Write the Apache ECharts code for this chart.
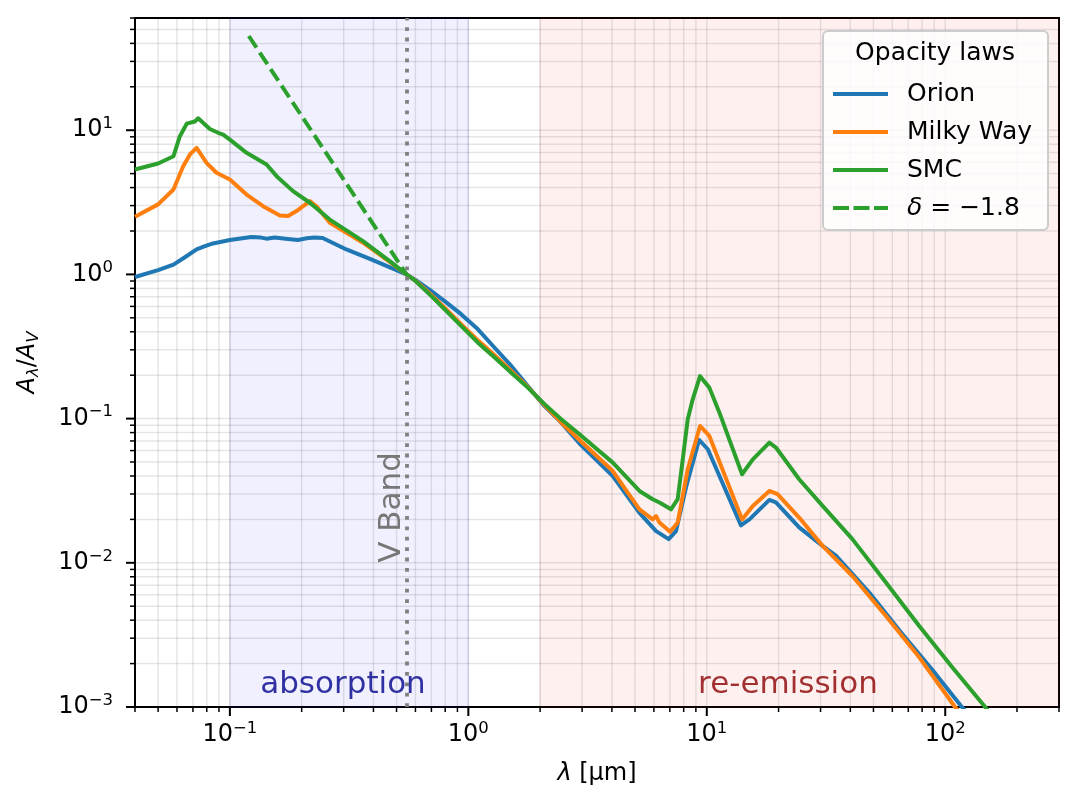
<!DOCTYPE html>
<html lang="en">
<head>
    <meta charset="UTF-8">
    <title>Opacity laws</title>
    <script src="https://cdn.jsdelivr.net/npm/echarts@6.0.0/dist/echarts.min.js"></script>
    <style>
        html, body { margin: 0; padding: 0; background: #fff; }
        #main { width: 1078px; height: 812px; }
    </style>
</head>
<body>
    <div id="main"></div>
    <script type="text/javascript">
        // wavelength [um] and A_lambda / A_V
        const orionLam = [0.04, 0.05, 0.058, 0.065, 0.0725, 0.0786, 0.085, 0.1, 0.123, 0.135, 0.1425, 0.154, 0.175, 0.193, 0.21, 0.227, 0.245, 0.308, 0.398, 0.55, 0.596, 0.7, 0.7955, 0.935, 1.097, 1.289, 1.514, 1.776, 2.087, 2.452, 2.926, 4.035, 5.22, 6.13, 6.92, 7.43, 8.19, 9.28, 10.1, 13.9, 15.1, 18.3, 19.5, 24.4, 30.6, 34.8, 48.0, 66.2, 91.3, 116.3, 128];
        const orionA = [0.96, 1.07, 1.17, 1.32, 1.49, 1.57, 1.64, 1.73, 1.82, 1.80, 1.77, 1.80, 1.76, 1.73, 1.78, 1.80, 1.79, 1.49, 1.256, 1.0, 0.923, 0.766, 0.653, 0.528, 0.416, 0.310, 0.232, 0.168, 0.122, 0.0938, 0.0672, 0.040, 0.0222, 0.0166, 0.0146, 0.0166, 0.0335, 0.0711, 0.0613, 0.0182, 0.020, 0.0273, 0.0262, 0.0176, 0.0131, 0.0112, 0.00622, 0.0032, 0.00169, 0.00102, 0.00085];

        const milkyLam = [0.04, 0.05, 0.058, 0.0637, 0.068, 0.0725, 0.0798, 0.0879, 0.1, 0.1175, 0.1378, 0.162, 0.1754, 0.1903, 0.2164, 0.2307, 0.2624, 0.3617, 0.468, 0.55, 0.596, 0.7, 0.7955, 0.935, 1.097, 1.289, 1.514, 1.776, 2.087, 2.452, 2.926, 4.035, 5.22, 5.93, 6.13, 6.33, 7.02, 7.55, 8.32, 9.37, 10.25, 14.06, 15.6, 18.3, 19.8, 24.4, 30.6, 40.8, 56.4, 77.8, 109, 118];
        const milkyA = [2.51, 3.06, 3.88, 5.63, 6.79, 7.55, 5.94, 5.07, 4.55, 3.58, 2.97, 2.56, 2.54, 2.75, 3.22, 2.97, 2.28, 1.66, 1.22, 1.0, 0.914, 0.719, 0.588, 0.450, 0.349, 0.275, 0.214, 0.166, 0.124, 0.094, 0.071, 0.0433, 0.0235, 0.020, 0.0211, 0.019, 0.0164, 0.019, 0.0445, 0.0889, 0.0758, 0.020, 0.0248, 0.0315, 0.0299, 0.0206, 0.0131, 0.0081, 0.00428, 0.00221, 0.00102, 0.00087];

        const smcLam = [0.04, 0.05, 0.058, 0.0617, 0.0659, 0.0713, 0.0736, 0.0824, 0.0893, 0.0937, 0.1, 0.1175, 0.1425, 0.157, 0.184, 0.2164, 0.2624, 0.3617, 0.468, 0.55, 0.596, 0.7, 0.7955, 0.935, 1.097, 1.289, 1.514, 1.776, 2.087, 2.452, 2.926, 4.035, 5.22, 5.93, 6.33, 7.08, 7.55, 7.93, 8.32, 8.73, 9.37, 10.25, 11.3, 14.06, 15.6, 18.3, 19.5, 24.4, 30.6, 40.8, 56.4, 77.8, 107.2, 145.6, 155];
        const smcA = [5.34, 5.88, 6.6, 9.09, 11.1, 11.5, 12.1, 10.2, 9.6, 9.33, 8.6, 6.97, 5.78, 4.80, 3.78, 3.14, 2.40, 1.70, 1.236, 1.0, 0.909, 0.707, 0.572, 0.438, 0.336, 0.265, 0.208, 0.164, 0.126, 0.0989, 0.0778, 0.0495, 0.0315, 0.0276, 0.0262, 0.0235, 0.0276, 0.0522, 0.0989, 0.136, 0.197, 0.164, 0.110, 0.0411, 0.0522, 0.0682, 0.063, 0.038, 0.0248, 0.0146, 0.0073, 0.00365, 0.00188, 0.00102, 0.0009];

        // power-law guide (dashed)
        const deltaLam = [0.12, 0.55];
        const deltaA = [45, 1.0];

        // axes
        const X_MIN = 0.04, X_MAX = 300;
        const Y_MIN = 0.001, Y_MAX = 60;
        const xMajor = [0.1, 1, 10, 100];
        const yMajor = [0.001, 0.01, 0.1, 1, 10];
        const V_BAND = 0.55;

        const FONT = 'DejaVu Sans';
        const GRID_COLOR = 'rgba(0,0,0,0.1)';
        const SOLID_ICON = 'path://M0,0h55v1h-55z';
        const DASH_ICON = 'path://M0,0h16v1h-16z M20.5,0h16v1h-16z M41,0h14v1h-14z';

        const zip = (xs, ys) => xs.map((x, i) => [x, ys[i]]);

        // 2..9 x 10^k inside [lo, hi]
        function minorTicks(lo, hi) {
            const out = [];
            for (let k = -4; k <= 3; k++) {
                for (let m = 2; m <= 9; m++) {
                    const v = m * Math.pow(10, k);
                    if (v >= lo * 0.999 && v <= hi * 1.001) out.push(v);
                }
            }
            return out;
        }
        const xMinor = minorTicks(X_MIN, X_MAX);
        const yMinor = minorTicks(Y_MIN, Y_MAX);

        // 10^n with a raised exponent
        function powLabel(v) {
            const lg = Math.log10(v);
            const e = Math.round(lg);
            if (Math.abs(lg - e) > 1e-6) return '';
            return '{b|10}{s|' + (e < 0 ? '\u2212' + (-e) : e) + '}';
        }
        const tickRich = {
            b: { fontFamily: FONT, fontSize: 24, color: '#000' },
            s: { fontFamily: FONT, fontSize: 16.5, color: '#000', padding: [0, 0, 13, 0] }
        };

        // tick marks + grid lines, drawn through the axes' scales
        function xTicks(params, api) {
            const v = api.value(0), major = api.value(2) === 1;
            const b = api.coord([v, Y_MIN]);
            const t = api.coord([v, Y_MAX]);
            const len = major ? 9 : 5;
            return {
                type: 'group',
                children: [
                    { type: 'line', shape: { x1: b[0], y1: t[1], x2: b[0], y2: b[1] }, style: { stroke: GRID_COLOR, lineWidth: 1.5 } },
                    { type: 'line', shape: { x1: b[0], y1: b[1], x2: b[0], y2: b[1] + len }, style: { stroke: '#000', lineWidth: major ? 2 : 1.5 } }
                ]
            };
        }
        function yTicks(params, api) {
            const v = api.value(1), major = api.value(2) === 1;
            const l = api.coord([X_MIN, v]);
            const r = api.coord([X_MAX, v]);
            const len = major ? 9 : 5;
            return {
                type: 'group',
                children: [
                    { type: 'line', shape: { x1: l[0], y1: l[1], x2: r[0], y2: l[1] }, style: { stroke: GRID_COLOR, lineWidth: 1.5 } },
                    { type: 'line', shape: { x1: l[0] - len, y1: l[1], x2: l[0], y2: l[1] }, style: { stroke: '#000', lineWidth: major ? 2 : 1.5 } }
                ]
            };
        }

        const xTickData = xMajor.map(v => [v, Y_MIN, 1]).concat(xMinor.map(v => [v, Y_MIN, 0]));
        const yTickData = yMajor.map(v => [X_MIN, v, 1]).concat(yMinor.map(v => [X_MIN, v, 0]));

        function curve(name, data, color, dash) {
            return {
                name: name,
                type: 'line',
                data: data,
                symbol: 'none',
                z: 3,
                lineStyle: { color: color, width: 4, type: dash || 'solid', cap: 'butt', join: 'round' },
                itemStyle: { color: color },
                emphasis: { disabled: true }
            };
        }

        let myChart = echarts.init(document.getElementById('main'));

        let options = {
            animation: false,
            grid: {
                left: 135, right: 19, top: 18, bottom: 105,
                show: true, borderColor: '#000', borderWidth: 2, backgroundColor: 'transparent'
            },
            xAxis: {
                type: 'log', min: X_MIN, max: X_MAX,
                axisLine: { show: false },
                axisTick: { show: false },
                splitLine: { show: false },
                axisLabel: { formatter: powLabel, margin: 13, fontSize: 24, fontFamily: FONT, rich: tickRich },
                name: '{i|\u03bb} [\u00b5m]',
                nameLocation: 'middle',
                nameGap: 55,
                nameTextStyle: {
                    fontFamily: FONT, fontSize: 24, color: '#000',
                    rich: { i: { fontFamily: FONT, fontSize: 24, fontStyle: 'italic', color: '#000' } }
                }
            },
            yAxis: {
                type: 'log', min: Y_MIN, max: Y_MAX,
                axisLine: { show: false },
                axisTick: { show: false },
                splitLine: { show: false },
                axisLabel: { formatter: powLabel, margin: 22, fontSize: 24, fontFamily: FONT, rich: tickRich },
                name: '{i|A}{sub|\u03bb}{n|/}{i|A}{sub|V}',
                nameLocation: 'middle',
                nameGap: 93,
                nameTextStyle: {
                    fontFamily: FONT, fontSize: 24, color: '#000',
                    rich: {
                        i: { fontFamily: FONT, fontSize: 24, fontStyle: 'italic', color: '#000' },
                        n: { fontFamily: FONT, fontSize: 24, color: '#000' },
                        sub: { fontFamily: FONT, fontSize: 16.5, fontStyle: 'italic', color: '#000', padding: [11, 0, 0, 0] }
                    }
                }
            },
            legend: {
                orient: 'vertical',
                left: 823, top: 31,
                data: [
                    { name: 'Orion', icon: SOLID_ICON },
                    { name: 'Milky Way', icon: SOLID_ICON },
                    { name: 'SMC', icon: SOLID_ICON },
                    { name: 'delta', icon: DASH_ICON }
                ],
                itemWidth: 55, itemHeight: 4, itemGap: 10,
                symbolKeepAspect: false,
                itemStyle: { borderWidth: 0 },
                padding: [49, 16, 8, 10],
                backgroundColor: 'rgba(255,255,255,0.8)',
                borderColor: '#cccccc', borderWidth: 2, borderRadius: 5,
                selectedMode: false,
                formatter: n => n === 'delta' ? '{i|\u03b4} = \u22121.8' : n,
                textStyle: {
                    fontFamily: FONT, fontSize: 25, color: '#000', lineHeight: 28,
                    padding: [0, 0, 0, 14],
                    rich: { i: { fontFamily: FONT, fontSize: 25, fontStyle: 'italic', color: '#000' } }
                }
            },
            series: [
                {
                    name: 'bands',
                    type: 'line',
                    data: [],
                    z: 1,
                    silent: true,
                    markArea: {
                        silent: true,
                        label: { show: false },
                        data: [
                            [{ xAxis: 0.1, itemStyle: { color: 'rgba(0,0,255,0.06)', borderColor: 'rgba(0,0,180,0.1)', borderWidth: 1.5 } }, { xAxis: 1 }],
                            [{ xAxis: 2, itemStyle: { color: 'rgba(255,0,0,0.06)', borderColor: 'rgba(180,0,0,0.08)', borderWidth: 1.5 } }, { xAxis: X_MAX }]
                        ]
                    },
                    markLine: {
                        silent: true,
                        symbol: ['none', 'none'],
                        label: { show: false },
                        lineStyle: { color: '#808080', width: 3.8, type: [3.8, 6.6] },
                        data: [{ xAxis: V_BAND }]
                    }
                },
                { name: 'xticks', type: 'custom', renderItem: xTicks, data: xTickData, encode: { x: 0, y: 1 }, z: 2, silent: true, clip: false },
                { name: 'yticks', type: 'custom', renderItem: yTicks, data: yTickData, encode: { x: 0, y: 1 }, z: 2, silent: true, clip: false },
                curve('Orion', zip(orionLam, orionA), '#1f77b4'),
                curve('Milky Way', zip(milkyLam, milkyA), '#ff7f0e'),
                curve('SMC', zip(smcLam, smcA), '#2ca02c'),
                curve('delta', zip(deltaLam, deltaA), '#2ca02c', [14, 5.8])
            ]
        };

        myChart.setOption(options);

        // annotations placed through the axes' scales
        const vPos = myChart.convertToPixel({ gridIndex: 0 }, [V_BAND, 0.01]);
        const absPos = myChart.convertToPixel({ gridIndex: 0 }, [0.298, 0.00143]);
        const remPos = myChart.convertToPixel({ gridIndex: 0 }, [21.9, 0.00143]);

        function label(text, x, y, color) {
            return {
                type: 'text', x: x, y: y, z: 50, silent: true,
                style: {
                    text: text, fill: color, fontFamily: FONT, fontSize: 31,
                    align: 'center', verticalAlign: 'middle',
                    textAlign: 'center', textVerticalAlign: 'middle'
                }
            };
        }

        myChart.setOption({
            graphic: [
                label('absorption', absPos[0], absPos[1], 'rgba(0,0,139,0.8)'),
                label('re-emission', remPos[0], remPos[1], 'rgba(139,0,0,0.8)'),
                {
                    type: 'text', x: vPos[0] + 1, y: vPos[1], rotation: Math.PI / 2, z: 50, silent: true,
                    style: {
                        text: 'V Band', fill: '#777777', fontFamily: FONT, fontSize: 31,
                        align: 'left', verticalAlign: 'bottom',
                        textAlign: 'left', textVerticalAlign: 'bottom'
                    }
                },
                {
                    type: 'text', x: 935, y: 53, z: 50, silent: true,
                    style: {
                        text: 'Opacity laws', fill: '#000', fontFamily: FONT, fontSize: 25,
                        align: 'center', verticalAlign: 'middle',
                        textAlign: 'center', textVerticalAlign: 'middle'
                    }
                }
            ]
        });
    </script>
</body>
</html>
